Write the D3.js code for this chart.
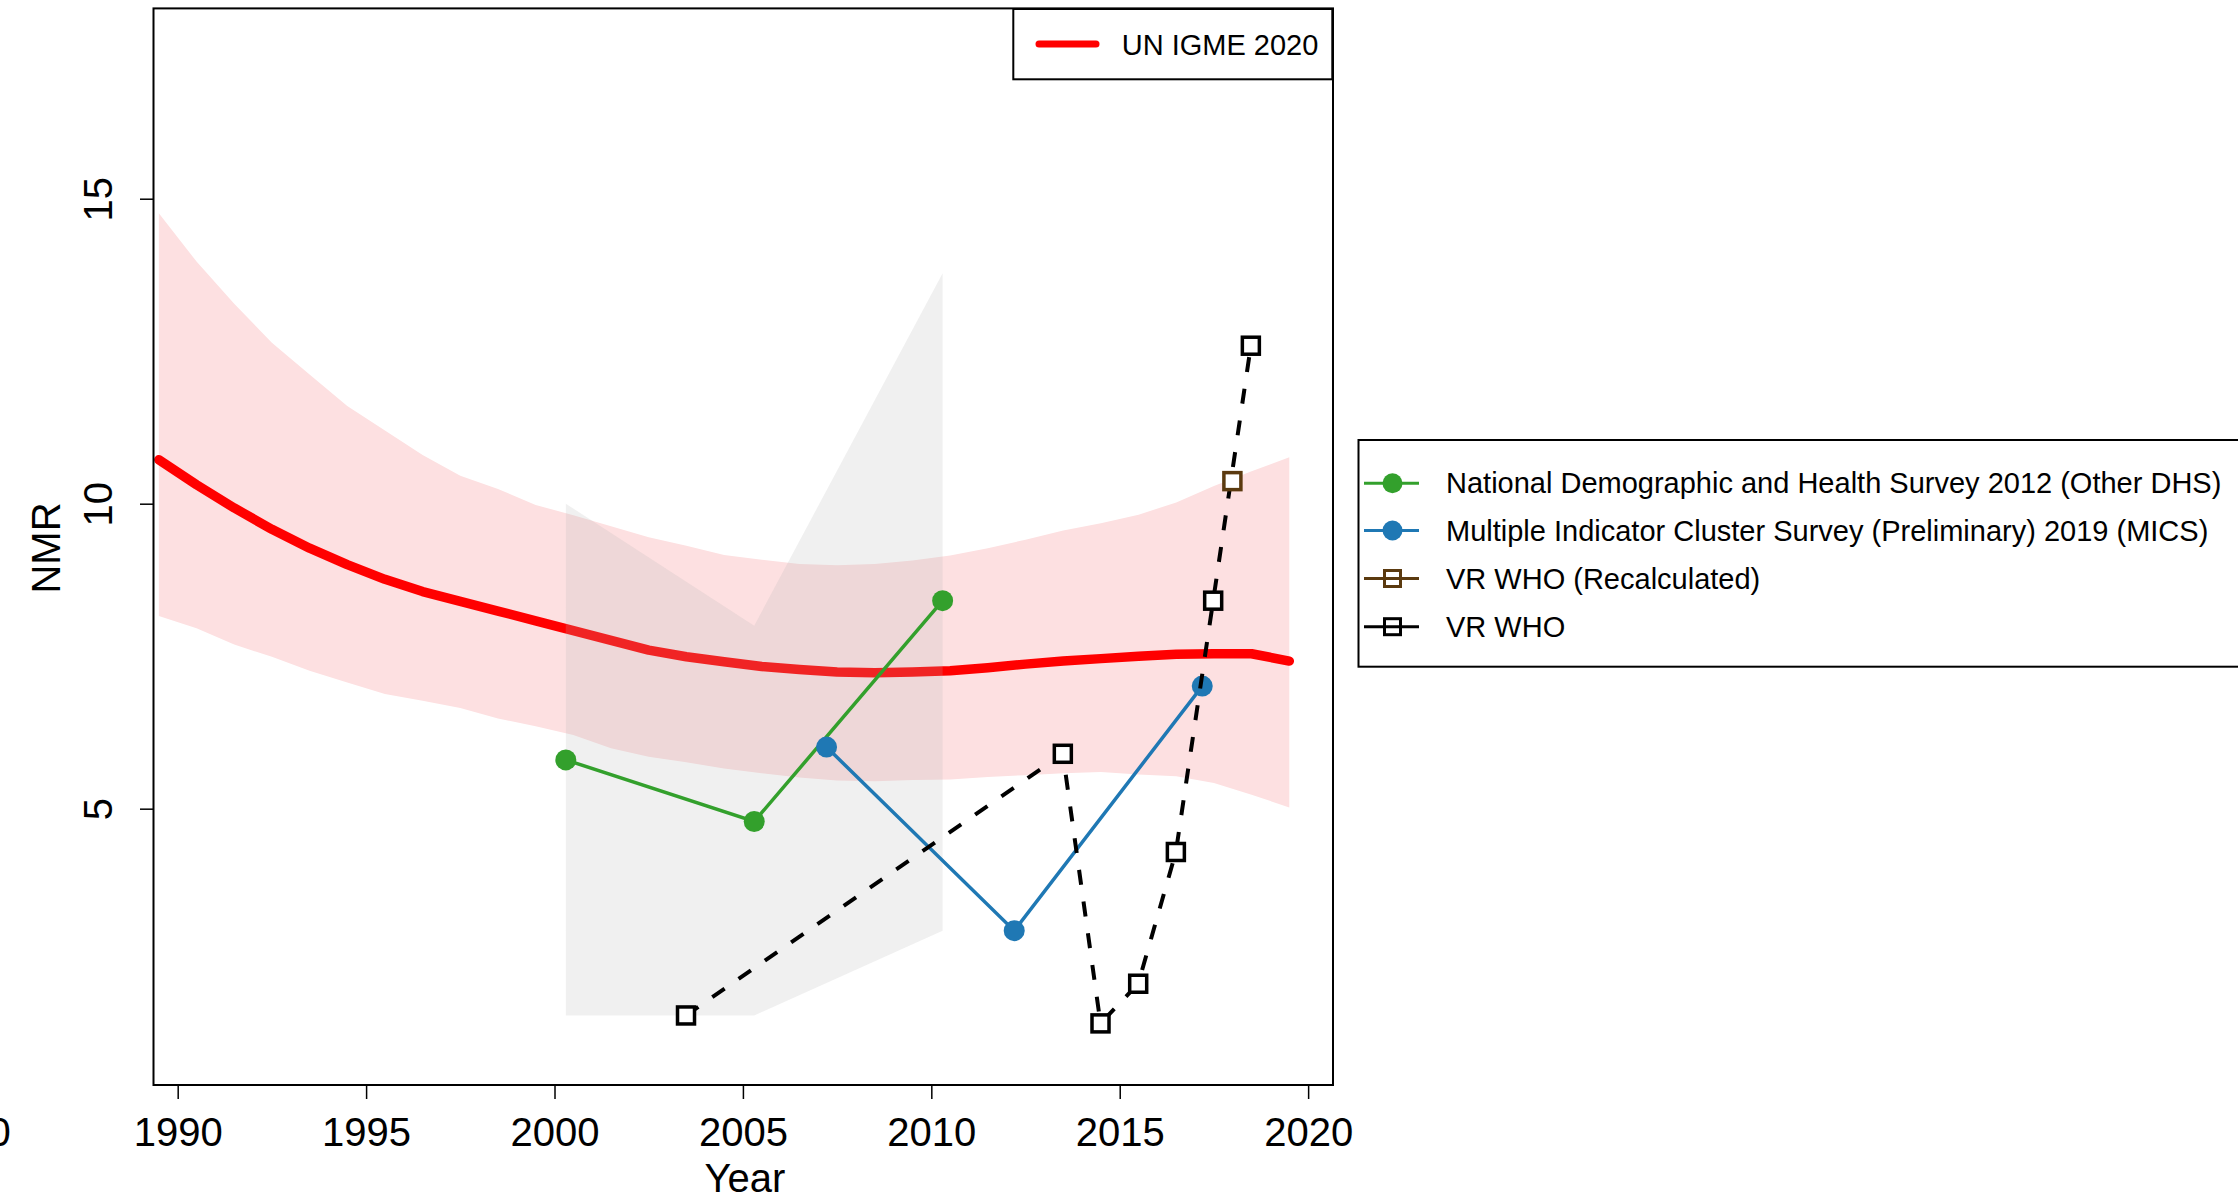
<!DOCTYPE html>
<html>
<head>
<meta charset="utf-8">
<script src="https://cdn.jsdelivr.net/npm/d3@7"></script>
<style>
  html, body { margin: 0; padding: 0; background: #fff; }
  svg { display: block; font-family: "Liberation Sans", Arial, Helvetica, sans-serif; }
</style>
</head>
<body>
<svg id="chart" width="2238" height="1201"></svg>
<script>
// ---------------- data ----------------
const igmeYears = [1989.5, 1990.5, 1991.5, 1992.5, 1993.5, 1994.5, 1995.5, 1996.5, 1997.5, 1998.5,
  1999.5, 2000.5, 2001.5, 2002.5, 2003.5, 2004.5, 2005.5, 2006.5, 2007.5, 2008.5,
  2009.5, 2010.5, 2011.5, 2012.5, 2013.5, 2014.5, 2015.5, 2016.5, 2017.5, 2018.5, 2019.5];
const igmeMedian = [10.72, 10.31, 9.93, 9.58, 9.27, 9.00, 8.76, 8.56, 8.40, 8.24,
  8.08, 7.92, 7.76, 7.60, 7.49, 7.41, 7.33, 7.28, 7.24, 7.23,
  7.24, 7.26, 7.31, 7.37, 7.42, 7.46, 7.50, 7.53, 7.54, 7.54, 7.42];
const igmeUpper = [14.76, 13.97, 13.28, 12.64, 12.12, 11.60, 11.20, 10.80, 10.46, 10.24,
  9.98, 9.81, 9.63, 9.45, 9.31, 9.16, 9.08, 9.01, 8.99, 9.01,
  9.07, 9.15, 9.27, 9.41, 9.56, 9.68, 9.82, 10.02, 10.29, 10.53, 10.76];
const igmeLower = [8.16, 7.96, 7.69, 7.49, 7.26, 7.07, 6.88, 6.77, 6.65, 6.48,
  6.35, 6.21, 5.99, 5.85, 5.76, 5.66, 5.58, 5.51, 5.46, 5.45,
  5.47, 5.48, 5.52, 5.55, 5.58, 5.60, 5.56, 5.53, 5.42, 5.23, 5.02];

const dhsYears = [2000.3, 2005.3, 2010.3];
const dhsValues = [5.80, 4.79, 8.41];
const dhsUpper = [10.0, 8.0, 13.78];
const dhsLower = [1.61, 1.61, 3.0];

const micsYears = [2007.22, 2012.2, 2017.19];
const micsValues = [6.01, 3.0, 7.01];

const vrYears = [2003.49, 2013.49, 2014.49, 2015.49, 2016.49, 2017.48, 2018.48];
const vrValues = [1.61, 5.90, 1.48, 2.13, 4.29, 8.41, 12.59];

const vrRecalcYears = [2017.99];
const vrRecalcValues = [10.37];

const xTicks = [1990, 1995, 2000, 2005, 2010, 2015, 2020];
const yTicks = [5, 10, 15];

const legendTop = ["UN IGME 2020"];
const legendSide = [
  "National Demographic and Health Survey 2012 (Other DHS)",
  "Multiple Indicator Cluster Survey (Preliminary) 2019 (MICS)",
  "VR WHO (Recalculated)",
  "VR WHO"
];

// ---------------- layout ----------------
const C = {
  red: "#ff0000", band: "#fde0e1", grey: "rgba(180,180,180,0.2)",
  green: "#33a02c", blue: "#1f78b4", brown: "#5b3a0f", black: "#000"
};
const plot = { left: 153.5, right: 1333, top: 8.4, bottom: 1085 };

const svg = d3.select("#chart");
const x = d3.scaleLinear().domain([1989.358, 2020.66]).range([plot.left, plot.right]);
const y = d3.scaleLinear().domain([0.47, 18.12]).range([plot.bottom, plot.top]);

const g = svg.append("g");

// pink uncertainty band
const bandData = igmeYears.map((yr, i) => ({ yr, lo: igmeLower[i], hi: igmeUpper[i] }));
g.append("path")
  .datum(bandData)
  .attr("fill", C.band)
  .attr("d", d3.area().x(d => x(d.yr)).y0(d => y(d.lo)).y1(d => y(d.hi)));

// red median line
g.append("path")
  .datum(igmeYears.map((yr, i) => ({ yr, v: igmeMedian[i] })))
  .attr("fill", "none").attr("stroke", C.red).attr("stroke-width", 9.5)
  .attr("stroke-linecap", "round").attr("stroke-linejoin", "round")
  .attr("d", d3.line().x(d => x(d.yr)).y(d => y(d.v)));

// grey DHS uncertainty polygon
const polyPts = dhsYears.map((yr, i) => [x(yr), y(dhsUpper[i])])
  .concat(dhsYears.map((yr, i) => [x(yr), y(dhsLower[i])]).reverse());
g.append("path")
  .attr("fill", C.grey)
  .attr("d", d3.line()(polyPts) + "Z");

// series
const lineGen = d3.line().x(d => x(d.yr)).y(d => y(d.v));
function series(years, values, color, width, dash) {
  const pts = years.map((yr, i) => ({ yr, v: values[i] }));
  const p = g.append("path").datum(pts)
    .attr("fill", "none").attr("stroke", color).attr("stroke-width", width)
    .attr("d", lineGen);
  if (dash) p.attr("stroke-dasharray", dash);
  return pts;
}
const dhsPts = series(dhsYears, dhsValues, C.green, 3.5);
g.selectAll(".dhs").data(dhsPts).enter().append("circle")
  .attr("cx", d => x(d.yr)).attr("cy", d => y(d.v)).attr("r", 10.5).attr("fill", C.green);

const micsPts = series(micsYears, micsValues, C.blue, 3.5);
g.selectAll(".mics").data(micsPts).enter().append("circle")
  .attr("cx", d => x(d.yr)).attr("cy", d => y(d.v)).attr("r", 10.5).attr("fill", C.blue);

const vrPts = series(vrYears, vrValues, C.black, 4, "15,17");
const sq = 17;
g.selectAll(".vr").data(vrPts).enter().append("rect")
  .attr("x", d => x(d.yr) - sq / 2).attr("y", d => y(d.v) - sq / 2)
  .attr("width", sq).attr("height", sq)
  .attr("fill", "#fff").attr("stroke", C.black).attr("stroke-width", 3.5);

const recPts = vrRecalcYears.map((yr, i) => ({ yr, v: vrRecalcValues[i] }));
g.selectAll(".rec").data(recPts).enter().append("rect")
  .attr("x", d => x(d.yr) - sq / 2).attr("y", d => y(d.v) - sq / 2)
  .attr("width", sq).attr("height", sq)
  .attr("fill", "#fff").attr("stroke", C.brown).attr("stroke-width", 3.5);

// plot box
svg.append("rect")
  .attr("x", plot.left).attr("y", plot.top)
  .attr("width", plot.right - plot.left).attr("height", plot.bottom - plot.top)
  .attr("fill", "none").attr("stroke", "#000").attr("stroke-width", 2);

// axes
const xAxis = svg.append("g").attr("transform", `translate(0,${plot.bottom})`)
  .call(d3.axisBottom(x).tickValues(xTicks).tickFormat(d3.format("d")).tickSize(14).tickPadding(18.3));
xAxis.select(".domain").remove();
xAxis.selectAll("line").attr("stroke-width", 1.5);
xAxis.selectAll("text").attr("font-size", 40).attr("font-family", "Liberation Sans, Arial, sans-serif").attr("fill", "#000");

const yAxis = svg.append("g").attr("transform", `translate(${plot.left},0)`)
  .call(d3.axisLeft(y).tickValues(yTicks).tickFormat(d3.format("d")).tickSize(13.5));
yAxis.select(".domain").remove();
yAxis.selectAll("line").attr("stroke-width", 1.5);
yAxis.selectAll("text")
  .attr("x", null).attr("dy", null)
  .attr("transform", "translate(-42,0) rotate(-90)")
  .attr("text-anchor", "middle")
  .attr("font-size", 40).attr("font-family", "Liberation Sans, Arial, sans-serif").attr("fill", "#000");

// axis titles
svg.append("text").attr("x", 745).attr("y", 1192).attr("text-anchor", "middle")
  .attr("font-size", 40).text("Year");
svg.append("text").attr("transform", "translate(60,548) rotate(-90)").attr("text-anchor", "middle")
  .attr("font-size", 40).text("NMR");
// clipped fragment of a label at the left edge (as in the reference)
svg.append("text").attr("x", -11.5).attr("y", 1145.7).attr("font-size", 40).text("0");

// top legend
const L1 = svg.append("g");
L1.append("rect").attr("x", 1013.3).attr("y", 9).attr("width", 319).attr("height", 70.3)
  .attr("fill", "#fff").attr("stroke", "#000").attr("stroke-width", 2);
L1.append("line").attr("x1", 1039).attr("x2", 1096).attr("y1", 44).attr("y2", 44)
  .attr("stroke", C.red).attr("stroke-width", 7).attr("stroke-linecap", "round");
L1.append("text").attr("x", 1121.7).attr("y", 55).attr("font-size", 29).text(legendTop[0]);

// side legend
const L2 = svg.append("g");
L2.append("rect").attr("x", 1358.5).attr("y", 440).attr("width", 920).attr("height", 226.7)
  .attr("fill", "#fff").attr("stroke", "#000").attr("stroke-width", 2);
const rowsY = [483.3, 530.5, 578.5, 626.7];
const legColors = [C.green, C.blue, C.brown, C.black];
const legShapes = ["circle", "circle", "square", "square"];
legendSide.forEach((label, i) => {
  const ry = rowsY[i];
  L2.append("line").attr("x1", 1364).attr("x2", 1419).attr("y1", ry).attr("y2", ry)
    .attr("stroke", legColors[i]).attr("stroke-width", 3);
  if (legShapes[i] === "circle") {
    L2.append("circle").attr("cx", 1392.5).attr("cy", ry).attr("r", 10).attr("fill", legColors[i]);
  } else {
    L2.append("rect").attr("x", 1392.5 - 8).attr("y", ry - 8).attr("width", 16).attr("height", 16)
      .attr("fill", "none").attr("stroke", legColors[i]).attr("stroke-width", 3);
  }
  L2.append("text").attr("x", 1446).attr("y", ry + 10).attr("font-size", 29).text(label);
});
</script>
</body>
</html>
